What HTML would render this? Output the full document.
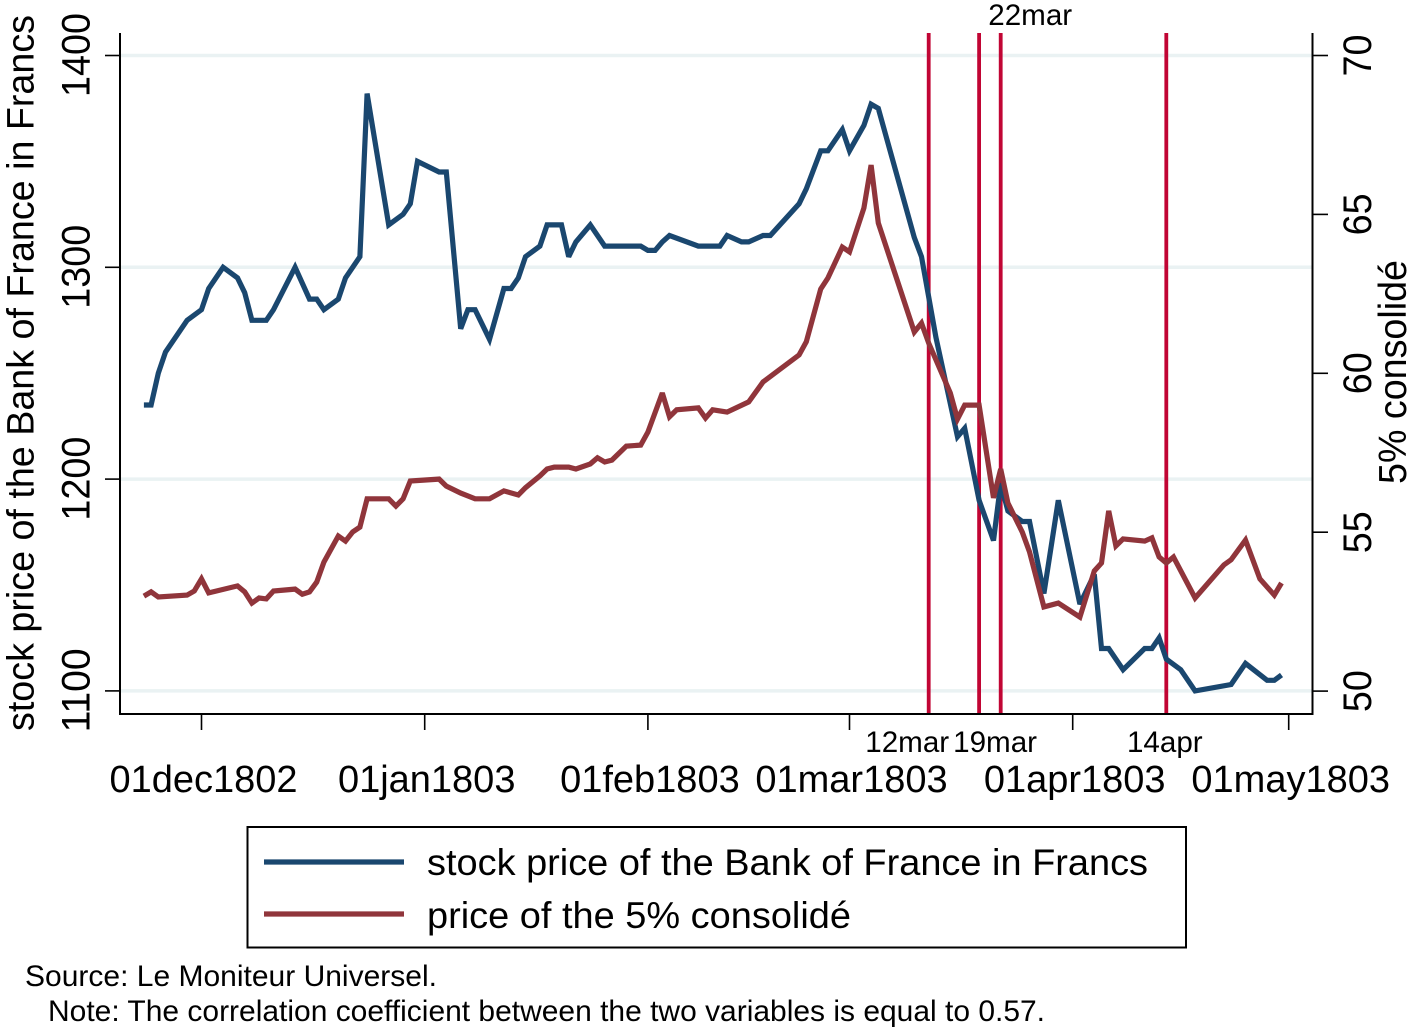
<!DOCTYPE html>
<html lang="en">
<head>
<meta charset="utf-8">
<title>Bank of France stock price and 5% consolidé</title>
<style>
html,body{margin:0;padding:0;background:#fff;width:1419px;height:1032px;overflow:hidden}
svg{display:block;font-family:"Liberation Sans",Arial,sans-serif;fill:#000}
</style>
</head>
<body>
<svg id="chart" xmlns="http://www.w3.org/2000/svg" width="1419" height="1032" viewBox="0 0 1419 1032">
<rect x="0" y="0" width="1419" height="1032" fill="#fff"/>
<g id="grid"></g>
<g id="events"></g>
<g id="marks"></g>
<g id="axes"></g>
<text transform="translate(33.500,731) rotate(-90)" font-size="38" textLength="716" lengthAdjust="spacingAndGlyphs">stock price of the Bank of France in Francs</text>
<text transform="translate(1406,484) rotate(-90)" font-size="38.500" textLength="224" lengthAdjust="spacingAndGlyphs">5% consolidé</text>
<rect x="247.5" y="827" width="938.500" height="120.500" fill="#fff" stroke="#000" stroke-width="2"/>
<line x1="264" y1="862" x2="404" y2="862" stroke="#1a476f" stroke-width="5.200"/>
<line x1="264" y1="914" x2="404" y2="914" stroke="#90353b" stroke-width="5.200"/>
<text x="427" y="875" font-size="37" textLength="721" lengthAdjust="spacingAndGlyphs">stock price of the Bank of France in Francs</text>
<text x="427" y="928" font-size="37" textLength="424" lengthAdjust="spacingAndGlyphs">price of the 5% consolidé</text>
<text x="25" y="986" font-size="29.500" textLength="412" lengthAdjust="spacingAndGlyphs">Source: Le Moniteur Universel.</text>
<text x="48" y="1021" font-size="29.500" textLength="997" lengthAdjust="spacingAndGlyphs">Note: The correlation coefficient between the two variables is equal to 0.57.</text>
</svg>
<script>
// Day numbers count from 01dec1802 = 0.
const stockDays = [-8,-7,-6,-5,-2,0,1,3,5,6,7,9,10,13,15,16,17,19,20,22,23,26,28,29,30,33,34,36,37,38,40,42,43,44,45,47,48,50,51,52,54,56,57,61,62,63,64,65,69,72,73,75,76,78,79,83,84,86,87,89,90,92,93,94,99,100,102,105,106,108,110,111,112,114,115,117,119,122,124,125,126,128,131,132,133,134,136,138,143,145,148,149,150];
const stockValues = [1235,1235,1250,1260,1275,1280,1290,1300,1295,1288,1275,1275,1280,1300,1285,1285,1280,1285,1295,1305,1382,1320,1325,1330,1350,1345,1345,1271,1280,1280,1266,1290,1290,1295,1305,1310,1320,1320,1305,1312,1320,1310,1310,1310,1308,1308,1312,1315,1310,1310,1315,1312,1312,1315,1315,1330,1337,1355,1355,1365,1355,1367,1377,1375,1314,1305,1267,1220,1224,1190,1171,1198,1185,1180,1180,1146,1190,1141,1155,1120,1120,1110,1120,1120,1125,1115,1110,1100,1103,1113,1105,1105,1107.5];
const consolDays = [-8,-7,-6,-2,-1,0,1,5,6,7,8,9,10,13,14,15,16,17,19,20,21,22,23,26,27,28,29,33,34,36,38,40,42,44,45,47,48,49,51,52,54,55,56,57,59,61,62,64,65,66,69,70,71,73,76,78,83,84,86,87,89,90,92,93,94,99,100,101,104,105,106,108,110,111,112,114,115,117,119,122,124,125,126,127,128,131,132,133,134,135,138,142,143,145,147,149,150];
const consolValues = [52.99,53.12,52.96,53.02,53.15,53.53,53.09,53.31,53.12,52.77,52.93,52.90,53.15,53.21,53.05,53.12,53.43,54.06,54.88,54.72,55.01,55.16,56.05,56.05,55.82,56.05,56.61,56.67,56.45,56.23,56.05,56.05,56.30,56.17,56.4,56.77,56.99,57.05,57.05,56.99,57.15,57.34,57.21,57.27,57.71,57.74,58.15,59.38,58.63,58.85,58.91,58.59,58.85,58.78,59.10,59.73,60.58,60.99,62.65,63.0,63.97,63.82,65.20,66.55,64.73,61.30,61.58,60.95,59.38,58.56,59.0,59.0,56.08,56.99,55.92,55.0,54.38,52.65,52.77,52.33,53.78,54.03,55.67,54.57,54.79,54.72,54.82,54.22,54.03,54.22,52.93,53.97,54.13,54.75,53.53,53.02,53.40];
const leftTicks = [1100,1200,1300,1400];
const rightTicks = [50,55,60,65,70];
const xTickDays = [0,31,62,90,121,151];
const xTickLabels = ['01dec1802','01jan1803','01feb1803','01mar1803','01apr1803','01may1803'];
const eventDays = [101,108,111,134];
const eventLabels = ['12mar','19mar','22mar','14apr'];

const NS = 'http://www.w3.org/2000/svg';
const plot = {left:120, right:1312.5, top:33, bottom:714};
function xPos(day){ return 201.5 + 7.2 * day; }
function yLeft(v){ return 55.5 + (1400 - v) * 2.118; }
function yRight(v){ return 55.5 + (70 - v) * 31.78; }
function make(parent, tag, attrs, text){
  const el = document.createElementNS(NS, tag);
  for (const k in attrs) el.setAttribute(k, attrs[k]);
  if (text !== undefined) el.textContent = text;
  parent.appendChild(el);
  return el;
}
const grid = document.getElementById('grid');
const events = document.getElementById('events');
const marks = document.getElementById('marks');
const axes = document.getElementById('axes');

leftTicks.forEach(function(t){
  const g = make(grid, 'line', {x1:plot.left, x2:plot.right, y1:yLeft(t), y2:yLeft(t), stroke:'#eaf2f3', 'stroke-width':3.5});
  
  
});

eventDays.forEach(function(d){
  const l = make(events, 'line', {x1:xPos(d), x2:xPos(d), y1:plot.top, y2:plot.bottom, stroke:'#c10534', 'stroke-width':3.8});
  
  
});

const stockPts = stockDays.map(function(d,i){ return xPos(d).toFixed(1)+','+yLeft(stockValues[i]).toFixed(1); }).join(' ');
const stockLine = make(marks, 'polyline', {points:stockPts, fill:'none', stroke:'#1a476f', 'stroke-width':5.2, 'stroke-linejoin':'miter', 'stroke-miterlimit':3});



const consolPts = consolDays.map(function(d,i){ return xPos(d).toFixed(1)+','+yRight(consolValues[i]).toFixed(1); }).join(' ');
const consolLine = make(marks, 'polyline', {points:consolPts, fill:'none', stroke:'#90353b', 'stroke-width':5.2, 'stroke-linejoin':'miter', 'stroke-miterlimit':3});



const axisStyle = {stroke:'#000', 'stroke-width':2};
const tickStyle = {stroke:'#000', 'stroke-width':1.6};
const leftAxis = make(axes, 'line', Object.assign({x1:plot.left, x2:plot.left, y1:plot.top, y2:plot.bottom+1}, axisStyle));


const rightAxis = make(axes, 'line', Object.assign({x1:plot.right, x2:plot.right, y1:plot.top, y2:plot.bottom+1}, axisStyle));


const xAxis = make(axes, 'line', Object.assign({x1:plot.left-1, x2:plot.right+1, y1:plot.bottom, y2:plot.bottom}, axisStyle));



leftTicks.forEach(function(t){
  const m = make(axes, 'line', Object.assign({x1:plot.left-15, x2:plot.left, y1:yLeft(t), y2:yLeft(t)}, tickStyle));
  
  
  const lab = make(axes, 'text', {transform:'translate(89.5,'+(yLeft(t)-0.5)+') rotate(-90)', 'text-anchor':'middle', 'font-size':40, textLength:84, lengthAdjust:'spacingAndGlyphs'}, String(t));
  
  
});
rightTicks.forEach(function(t){
  const m = make(axes, 'line', Object.assign({x1:plot.right, x2:plot.right+15.5, y1:yRight(t), y2:yRight(t)}, tickStyle));
  
  
  const lab = make(axes, 'text', {transform:'translate(1371,'+yRight(t)+') rotate(-90)', 'text-anchor':'middle', 'font-size':40, textLength:42, lengthAdjust:'spacingAndGlyphs'}, String(t));
  
  
});
xTickDays.forEach(function(d,i){
  const m = make(axes, 'line', Object.assign({x1:xPos(d), x2:xPos(d), y1:plot.bottom, y2:plot.bottom+16}, tickStyle));
  
  
  const lab = make(axes, 'text', {x:xPos(d)+2, y:792, 'text-anchor':'middle', 'font-size':38}, xTickLabels[i]);
  
  
});
eventDays.forEach(function(d,i){
  const above = eventLabels[i] === '22mar';
  const nudge = eventLabels[i] === '12mar' ? -21.5 : (eventLabels[i] === '19mar' ? 16 : (above ? 29.5 : -1.5));
  const lab = make(axes, 'text', {x:xPos(d)+nudge, y: above ? 25 : 752, 'text-anchor':'middle', 'font-size':29.6}, eventLabels[i]);
  
  
});
</script>
</body>
</html>
